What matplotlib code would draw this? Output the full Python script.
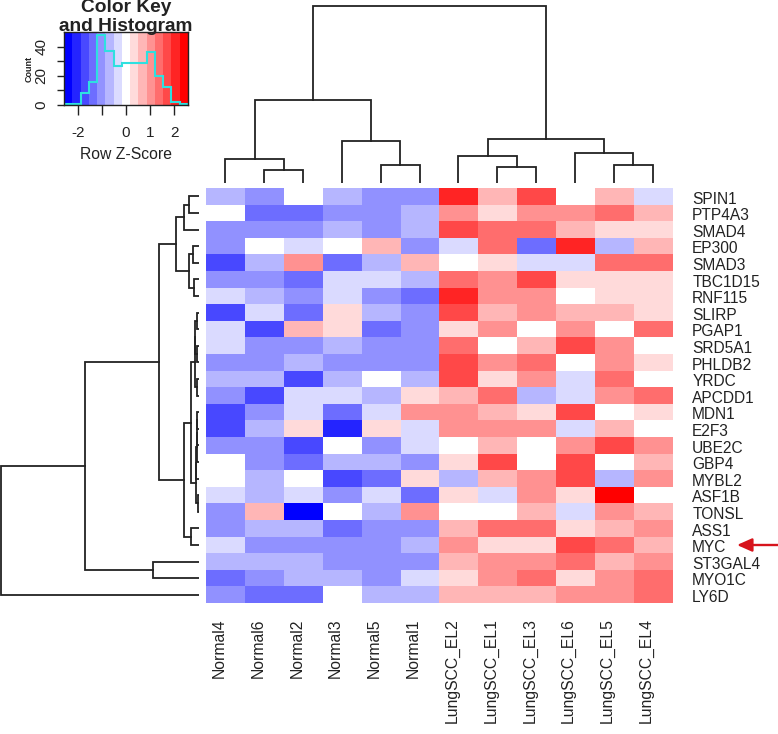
# Heatmap with row and column dendrograms, colour key on top left
import numpy as np
import matplotlib
matplotlib.use("Agg")
import matplotlib.pyplot as plt

plt.rcParams["font.family"] = ["Liberation Sans", "DejaVu Sans"]

W, H = 778, 734
TEXT = "#222222"

# Heatmap values, read as colour levels (-7 blue .. 7 red)
genes = ["SPIN1", "PTP4A3", "SMAD4", "EP300", "SMAD3", "TBC1D15", "RNF115", "SLIRP", "PGAP1",
         "SRD5A1", "PHLDB2", "YRDC", "APCDD1", "MDN1", "E2F3", "UBE2C", "GBP4", "MYBL2",
         "ASF1B", "TONSL", "ASS1", "MYC", "ST3GAL4", "MYO1C", "LY6D"]
samples = ["Normal4", "Normal6", "Normal2", "Normal3", "Normal5", "Normal1",
           "LungSCC_EL2", "LungSCC_EL1", "LungSCC_EL3", "LungSCC_EL6", "LungSCC_EL5", "LungSCC_EL4"]
normal_vals = [
    [-2, -3, 0, -2, -3, -3],
    [0, -4, -4, -3, -3, -2],
    [-3, -3, -3, -2, -3, -2],
    [-3, 0, -1, 0, 2, -3],
    [-5, -2, 3, -4, -2, 2],
    [-3, -3, -4, -1, -1, -2],
    [-1, -2, -3, -1, -3, -4],
    [-5, -1, -4, 1, -2, -3],
    [-1, -5, 2, 1, -4, -3],
    [-1, -3, -3, -2, -3, -3],
    [-3, -3, -2, -3, -3, -3],
    [-2, -2, -5, -2, 0, -2],
    [-3, -5, -1, -1, -2, 1],
    [-5, -3, -1, -4, -1, 3],
    [-5, -2, 1, -6, 1, -1],
    [-3, -3, -5, 0, -3, -1],
    [0, -3, -4, -2, -2, -3],
    [0, -2, 0, -5, -4, 1],
    [-1, -2, -1, -3, -1, -4],
    [-3, 2, -7, 0, -2, 3],
    [-3, -2, -2, -4, -3, -3],
    [-1, -3, -3, -3, -3, -2],
    [-2, -2, -2, -3, -3, -3],
    [-4, -3, -2, -2, -3, -1],
    [-3, -4, -4, 0, -2, -2],
]
tumour_vals = [
    [6, 2, 5, 0, 2, -1],
    [3, 1, 3, 3, 4, 2],
    [5, 4, 4, 2, 1, 1],
    [-1, 4, -4, 6, -2, 2],
    [0, 1, -1, -1, 4, 4],
    [4, 3, 5, 1, 1, 1],
    [6, 3, 3, 0, 1, 1],
    [5, 2, 3, 2, 2, 1],
    [1, 3, 0, 3, 0, 4],
    [4, 0, 2, 5, 3, 0],
    [5, 3, 4, 0, 3, 1],
    [5, 1, 3, -1, 4, 0],
    [2, 4, -2, -1, 3, 4],
    [3, 2, 1, 5, 0, 1],
    [3, 3, 3, -1, 2, 0],
    [0, 2, 0, 3, 5, 3],
    [1, 5, 0, 5, 0, 2],
    [-2, 2, 3, 5, -2, 3],
    [1, -1, 3, 1, 7, 0],
    [0, 0, 2, -1, 3, 2],
    [2, 4, 4, 1, 2, 3],
    [3, 1, 1, 5, 4, 2],
    [2, 3, 3, 4, 2, 3],
    [1, 3, 4, 1, 3, 4],
    [2, 2, 2, 3, 3, 4],
]

# Dendrograms: (left, right, height), ids >= n point at an earlier merge
col_merges = [(1, 2, 13), (0, 12, 24), (4, 5, 18), (3, 14, 42), (13, 15, 83),
              (7, 8, 16), (6, 17, 27), (10, 11, 18), (9, 19, 30), (18, 20, 44), (16, 21, 177)]
row_merges = [(0, 1, 10), (25, 2, 15), (3, 4, 6), (5, 6, 5), (27, 28, 10), (26, 29, 23),
              (7, 8, 2), (9, 10, 2), (11, 12, 2), (31, 32, 4), (34, 33, 4.3),
              (13, 14, 2), (36, 15, 2.2), (37, 16, 2.4), (38, 17, 2.6), (18, 19, 1.3),
              (39, 40, 3), (35, 41, 8), (20, 21, 8), (42, 43, 15), (30, 44, 40),
              (22, 23, 46), (45, 46, 114), (47, 24, 198)]

# Colour key
key_counts = [1, 1, 8, 16, 48, 37, 27, 29, 29, 29, 36, 20, 12, 2, 1]
key_ticks = [-2, -1, 0, 1, 2]
key_ticklabels = ["-2", "", "0", "1", "2"]
count_ticks = [0, 10, 20, 30, 40]
count_ticklabels = ["0", "", "20", "", "40"]


def px_axes(fig, x0, y0, x1, y1):
    # axes from pixel box, y measured from the top of the image
    return fig.add_axes([x0 / W, 1 - y1 / H, (x1 - x0) / W, (y1 - y0) / H])


def draw_dendro(ax, merges, n, sideways=False):
    pos = {i: i + 0.5 for i in range(n)}
    hgt = {i: 0 for i in range(n)}
    for k, (a, b, h) in enumerate(merges):
        xs = [pos[a], pos[a], pos[b], pos[b]]
        ys = [hgt[a], h, h, hgt[b]]
        if sideways:
            ax.plot(ys, xs, color=TEXT, lw=1.3, solid_joinstyle="miter")
        else:
            ax.plot(xs, ys, color=TEXT, lw=1.3, solid_joinstyle="miter")
        pos[n + k] = (pos[a] + pos[b]) / 2
        hgt[n + k] = h
    ax.axis("off")


fig = plt.figure(figsize=(W / 100, H / 100), dpi=100)
cmap = plt.get_cmap("bwr", 15)

# main heatmap
ax = px_axes(fig, 206, 188, 672, 603)
matrix = np.hstack([np.array(normal_vals), np.array(tumour_vals)])
ax.imshow(matrix, cmap=cmap, vmin=-7.5, vmax=7.5, aspect="auto", interpolation="nearest",
          extent=(0, len(samples), len(genes), 0))
ax.axis("off")
for i, g in enumerate(genes):
    ax.annotate(g, xy=(1, i + 0.5), xycoords=("axes fraction", "data"), xytext=(14.5, -2),
                textcoords="offset points", va="center", ha="left", fontsize=11.2, color=TEXT)
for j, s in enumerate(samples):
    ax.annotate(s, xy=(j + 0.5, 0), xycoords=("data", "axes fraction"), xytext=(-4.5, -11),
                textcoords="offset points", va="top", ha="center", rotation=90,
                fontsize=11.3, color=TEXT)

# red arrow pointing at MYC
ax.annotate("", xy=(737 / W, 1 - 545 / H), xytext=(778 / W, 1 - 545 / H),
            xycoords="figure fraction", textcoords="figure fraction",
            arrowprops=dict(arrowstyle="-|>,head_length=0.9,head_width=0.4", color="#d7141c",
                            lw=1.7, shrinkA=0, shrinkB=0, mutation_scale=10))

# column dendrogram
ax_top = px_axes(fig, 206, 0, 672, 183)
draw_dendro(ax_top, col_merges, len(samples))
ax_top.set_xlim(0, len(samples))
ax_top.set_ylim(0, 183)

# row dendrogram
ax_left = px_axes(fig, 0, 188, 199, 603)
draw_dendro(ax_left, row_merges, len(genes), sideways=True)
ax_left.set_xlim(199, 0)
ax_left.set_ylim(len(genes), 0)

# colour key with histogram
ax_key = px_axes(fig, 64, 32, 188, 105)
edges = np.linspace(-2.58, 2.58, len(key_counts) + 1)
ax_key.pcolormesh(edges, [0, 50], np.arange(-7, 8).reshape(1, -1), cmap=cmap, vmin=-7.5, vmax=7.5)
ax_key.stairs(key_counts, edges, color="#2ee0e0", lw=1.5)
ax_key.set_xlim(edges[0], edges[-1])
ax_key.set_ylim(0, 50)
ax_key.set_xticks(key_ticks)
ax_key.set_xticklabels(key_ticklabels, fontsize=11, color=TEXT)
ax_key.set_yticks(count_ticks)
ax_key.set_yticklabels(count_ticklabels, fontsize=11, color=TEXT, rotation=90, va="center")
ax_key.tick_params(axis="x", length=7, width=1, pad=8, color=TEXT)
ax_key.tick_params(axis="y", length=5, width=1, pad=6, color=TEXT)
for sp in ax_key.spines.values():
    sp.set_linewidth(1)
    sp.set_color(TEXT)
ax_key.set_xlabel("Row Z-Score", fontsize=11.3, color=TEXT, labelpad=5.5)
ax_key.set_ylabel("Count", fontsize=6.5, fontweight="bold", color=TEXT, labelpad=1)
fig.text(126 / W, 1 - 17 / H, "Color Key\nand Histogram", ha="center", va="center",
         fontsize=13.8, fontweight="bold", color=TEXT, linespacing=1.2)

fig.savefig("out.png", dpi=100)
